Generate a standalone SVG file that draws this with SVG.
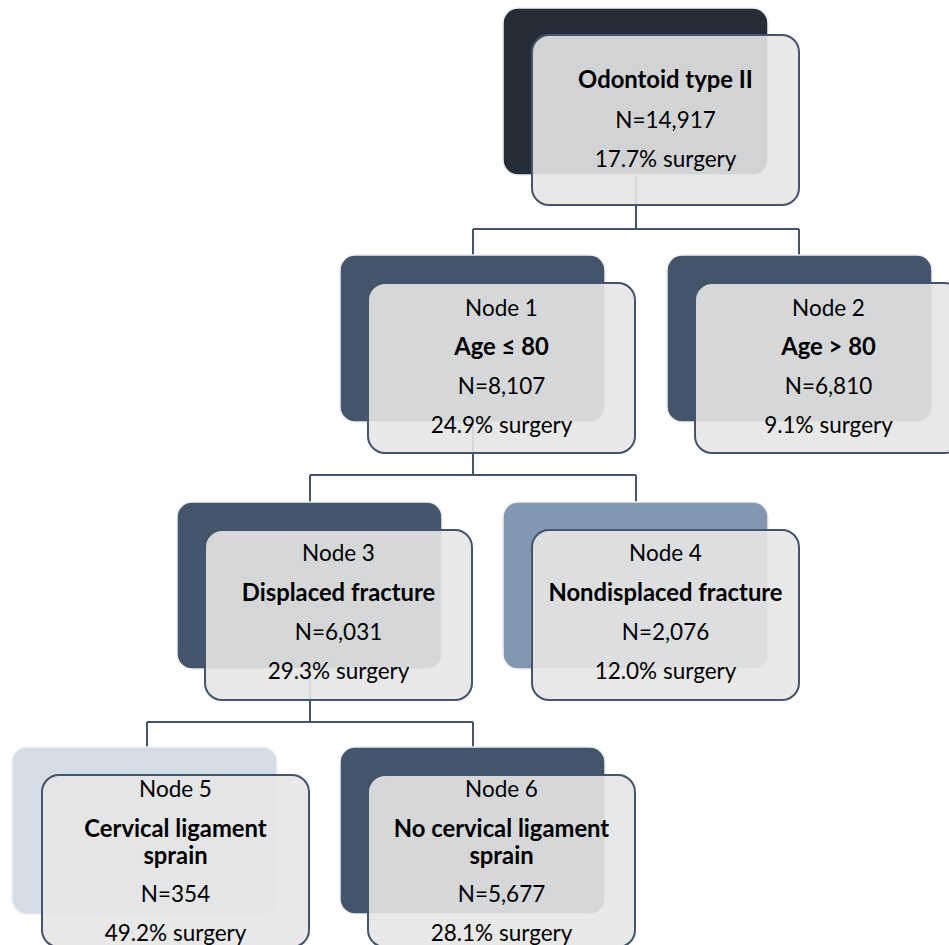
<svg xmlns="http://www.w3.org/2000/svg" width="949" height="945" viewBox="0 0 949 945">
<style>
.back{stroke:#eef0f3;stroke-width:1.5}
.front{fill:#e5e5e5;fill-opacity:0.9;stroke:#44546a;stroke-width:2}
.conn{fill:none;stroke:#44546a;stroke-width:2}
text{font-family:Lato,"Liberation Sans",sans-serif;font-size:22.5px;fill:#000;text-anchor:middle}
.b{font-weight:bold;font-size:23.8px}
</style>
<rect width="949" height="945" fill="#ffffff"/>
<g id="connectors">
<path class="conn" d="M636,175 V229 M473,229 H799 M473,229 V255 M799,229 V255"/>
<path class="conn" d="M473,422 V475 M310,475 H636 M310,475 V502 M636,475 V502"/>
<path class="conn" d="M310,669 V722 M147,722 H473 M147,722 V747 M473,722 V747"/>
</g>
<g id="root">
<rect class="back" x="503" y="8" width="265" height="167" rx="15" fill="#252d39"/>
<rect class="front" x="532" y="35" width="267" height="170" rx="17"/>
<text x="665.5" y="88" class="b">Odontoid type II</text>
<text x="665.5" y="128">N=14,917</text>
<text x="665.5" y="167">17.7% surgery</text>
</g>
<g id="node1">
<rect class="back" x="340" y="255" width="265" height="167" rx="15" fill="#44546a"/>
<rect class="front" x="368" y="283" width="267" height="170" rx="17"/>
<text x="501.5" y="316">Node 1</text>
<text x="501.5" y="355" class="b">Age ≤ 80</text>
<text x="501.5" y="394">N=8,107</text>
<text x="501.5" y="433">24.9% surgery</text>
</g>
<g id="node2">
<rect class="back" x="667" y="255" width="265" height="167" rx="15" fill="#44546a"/>
<rect class="front" x="695" y="283" width="267" height="170" rx="17"/>
<text x="828.5" y="316">Node 2</text>
<text x="828.5" y="355" class="b">Age &gt; 80</text>
<text x="828.5" y="394">N=6,810</text>
<text x="828.5" y="433">9.1% surgery</text>
</g>
<g id="node3">
<rect class="back" x="177" y="502" width="265" height="167" rx="15" fill="#44546a"/>
<rect class="front" x="205" y="530" width="267" height="170" rx="17"/>
<text x="338.5" y="561">Node 3</text>
<text x="338.5" y="601" class="b">Displaced fracture</text>
<text x="338.5" y="640">N=6,031</text>
<text x="338.5" y="679">29.3% surgery</text>
</g>
<g id="node4">
<rect class="back" x="503" y="502" width="265" height="167" rx="15" fill="#8497b0"/>
<rect class="front" x="532" y="530" width="267" height="170" rx="17"/>
<text x="665.5" y="561">Node 4</text>
<text x="665.5" y="601" class="b">Nondisplaced fracture</text>
<text x="665.5" y="640">N=2,076</text>
<text x="665.5" y="679">12.0% surgery</text>
</g>
<g id="node5">
<rect class="back" x="12" y="747" width="265" height="167" rx="15" fill="#d6dce5"/>
<rect class="front" x="42" y="775" width="267" height="172" rx="17"/>
<text x="175.5" y="797">Node 5</text>
<text x="175.5" y="837" class="b">Cervical ligament</text>
<text x="175.5" y="864" class="b">sprain</text>
<text x="175.5" y="902">N=354</text>
<text x="175.5" y="941">49.2% surgery</text>
</g>
<g id="node6">
<rect class="back" x="340" y="747" width="265" height="167" rx="15" fill="#44546a"/>
<rect class="front" x="368" y="775" width="267" height="172" rx="17"/>
<text x="501.5" y="797">Node 6</text>
<text x="501.5" y="837" class="b">No cervical ligament</text>
<text x="501.5" y="864" class="b">sprain</text>
<text x="501.5" y="902">N=5,677</text>
<text x="501.5" y="941">28.1% surgery</text>
</g>
</svg>
